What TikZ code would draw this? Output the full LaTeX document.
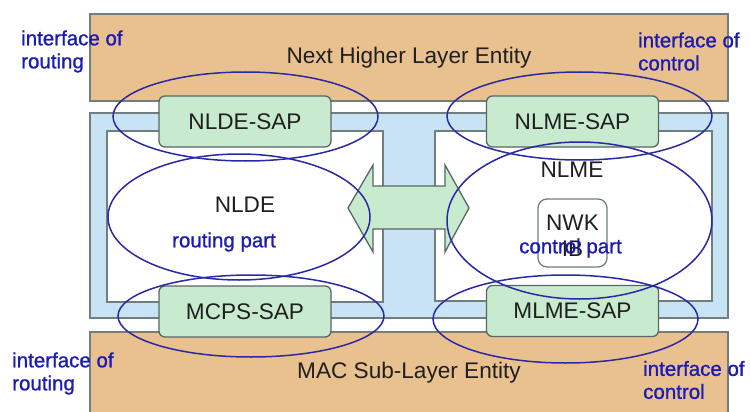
\documentclass[tikz,border=0pt]{standalone}
\usepackage{fontspec}
\setmainfont{Liberation Sans}
\usetikzlibrary{shapes.geometric}
\definecolor{tan}{RGB}{233,193,142}
\definecolor{skyfill}{RGB}{200,228,244}
\definecolor{sapfill}{RGB}{200,235,208}
\definecolor{edgegray}{RGB}{112,126,126}
\definecolor{ringblue}{RGB}{42,40,165}
\definecolor{labelblue}{RGB}{28,28,180}
\begin{document}
\begin{tikzpicture}[x=1pt,y=-1pt]
\tikzstyle{every node}+=[inner sep=0pt, font=\fontsize{22.6}{26}\selectfont, text=black!88]
\tikzstyle{layer}=[draw=edgegray, fill=tan, line width=1.3pt, minimum width=638]
\tikzstyle{panel}=[draw=edgegray, fill=white, line width=1.3pt]
\tikzstyle{sap}=[draw=edgegray!80!black, fill=sapfill, line width=1.3pt, rounded corners=6pt, minimum width=172, minimum height=51]
\tikzstyle{ring}=[ellipse, draw=ringblue, line width=1.5pt]
\tikzstyle{note}=[text=labelblue, font=\fontsize{20.5}{23}\selectfont\addfontfeature{FakeBold=1}]
\useasboundingbox (0,0) rectangle (750,412);
\fill[white] (0,0) rectangle (750,412);
\node[layer, minimum height=87] (nhl) at (409,57.5) {Next Higher Layer Entity};
\node[layer, minimum height=82] (mac) at (409,373) {MAC Sub-Layer Entity};
\node[draw=edgegray, fill=skyfill, line width=1.3pt, minimum width=638, minimum height=205] (nwk) at (409,215.5) {};
\node[panel, minimum width=276, minimum height=171] (nldebox) at (245,216.5) {};
\node[panel, minimum width=277, minimum height=170] (nlmebox) at (573.5,216) {};
\node[sap] (nldesap) at (245,121.5) {NLDE-SAP};
\node[sap] (nlmesap) at (572.5,121.5) {NLME-SAP};
\node[sap] (mcpssap) at (245,311.5) {MCPS-SAP};
\node[sap] (mlmesap) at (572.5,311) {MLME-SAP};
\draw[draw=edgegray!80!black, fill=sapfill, line width=1.3pt] (348,208) -- (373,165) -- (373,186) -- (445,186) -- (445,165) -- (469,208) -- (445,252) -- (445,229) -- (373,229) -- (373,252) -- cycle;
\node (nlde) at (245,205) {NLDE};
\node (nlme) at (572,170) {NLME};
\node[draw=edgegray, fill=white, line width=1.3pt, rounded corners=9pt, minimum width=69, minimum height=68] (nib) at (572.5,233) {};
\node[align=center] (nibtext) at (572.5,235.5) {NWK\\IB};
\node[note] (rpart) at (224,242) {routing part};
\node[note] (cpart) at (570.5,248) {control part};
\node[note, align=left, anchor=west] (ifrtop) at (21,51.5) {interface of\\routing};
\node[note, align=left, anchor=west] (ifctop) at (638,51.5) {interface of\\control};
\node[note, align=left, anchor=west] (ifrbot) at (12,373.5) {interface of\\routing};
\node[note, align=left, anchor=west] (ifcbot) at (643,380) {interface of\\control};
\node[ring, minimum width=265, minimum height=89] (rtop) at (245.5,116.5) {};
\node[ring, minimum width=265, minimum height=88] (ctop) at (579.5,116) {};
\node[ring, minimum width=262, minimum height=126] (rmid) at (239,217) {};
\node[ring, minimum width=265, minimum height=157] (cmid) at (579.5,220.5) {};
\node[ring, minimum width=266, minimum height=82] (rbot) at (251,316) {};
\node[ring, minimum width=265, minimum height=88] (cbot) at (565.5,319) {};
\end{tikzpicture}
\end{document}
